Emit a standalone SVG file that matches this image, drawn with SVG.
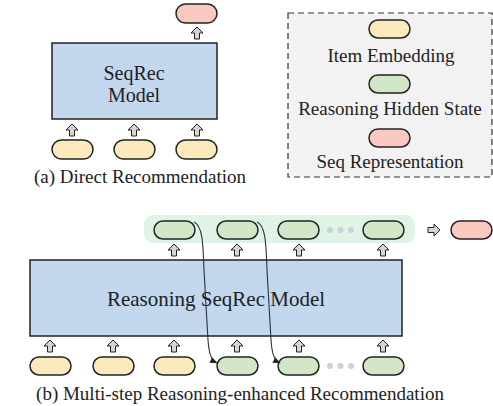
<svg xmlns="http://www.w3.org/2000/svg" width="493" height="406" viewBox="0 0 493 406">
<style>
text{font-family:"Liberation Serif","Times New Roman",serif;fill:#222;text-anchor:middle}
.pill{stroke:#222;stroke-width:1.5}
.y{fill:#FCE9BC}.g{fill:#D2E7C8}.p{fill:#F9C9C1}
.box{fill:#C3D7EE;stroke:#222;stroke-width:1.5}
.ar{fill:#D4D4D4;stroke:#222;stroke-width:1}
.dot{fill:#C9D2DC}
.conn{fill:none;stroke:#2a3440;stroke-width:1.1}
</style>
<defs>
<path id="up" d="M0,0 L6,6 L2.5,6 L2.5,12 L-2.5,12 L-2.5,6 L-6,6 Z"/>
<marker id="ah" viewBox="0 0 10 10" refX="9" refY="5" markerWidth="7" markerHeight="7" orient="auto"><path d="M0,1 L10,5 L0,9 Z" fill="#222"/></marker>
</defs>
<!-- (a) -->
<g id="a-out"><rect class="pill p" x="176" y="4" width="41" height="19" rx="9.5"/></g>
<g id="a-model"><rect class="box" x="52" y="43" width="165" height="76"/>
<text x="134" y="80" font-size="20">SeqRec</text><text x="134" y="102" font-size="20">Model</text></g>
<g id="a-in1"><rect class="pill y" x="52" y="140" width="41" height="19" rx="9.5"/></g>
<g id="a-in2"><rect class="pill y" x="114" y="140" width="41" height="19" rx="9.5"/></g>
<g id="a-in3"><rect class="pill y" x="176" y="140" width="41" height="19" rx="9.5"/></g>
<text x="140" y="183" font-size="19">(a) Direct Recommendation</text>
<!-- legend -->
<g id="legend">
<rect x="288" y="13" width="204" height="164" fill="#F2F2F2" stroke="#333" stroke-width="1.2" stroke-dasharray="6,4"/>
<rect class="pill y" x="369" y="20" width="41" height="18" rx="9"/>
<text x="391" y="62" font-size="19">Item Embedding</text>
<rect class="pill g" x="369" y="75" width="41" height="18" rx="9"/>
<text x="390" y="115" font-size="19">Reasoning Hidden State</text>
<rect class="pill p" x="369" y="129" width="41" height="18" rx="9"/>
<text x="390" y="168" font-size="19">Seq Representation</text>
</g>
<!-- (b) -->
<g id="band"><rect x="144" y="215" width="271" height="28" rx="9" fill="#DFF3E6"/></g>
<g id="b-h1"><rect class="pill g" x="154" y="221" width="41" height="18" rx="9"/></g>
<g id="b-h2"><rect class="pill g" x="217" y="221" width="41" height="18" rx="9"/></g>
<g id="b-h3"><rect class="pill g" x="278" y="221" width="41" height="18" rx="9"/></g>
<g id="b-h4"><rect class="pill g" x="363" y="221" width="41" height="18" rx="9"/></g>
<g id="b-dots1"><circle class="dot" cx="330" cy="230" r="3"/><circle class="dot" cx="340.5" cy="230" r="3"/><circle class="dot" cx="351" cy="230" r="3"/></g>
<g id="b-out"><rect class="pill p" x="451" y="221" width="41" height="18" rx="9"/></g>
<g id="b-model"><rect class="box" x="30" y="260" width="372" height="76"/>
<text x="216" y="306" font-size="21">Reasoning SeqRec Model</text></g>
<g id="b-i1"><rect class="pill y" x="30" y="357" width="41" height="18" rx="9"/></g>
<g id="b-i2"><rect class="pill y" x="93" y="357" width="41" height="18" rx="9"/></g>
<g id="b-i3"><rect class="pill y" x="154" y="357" width="41" height="18" rx="9"/></g>
<g id="b-g1"><rect class="pill g" x="217" y="357" width="41" height="18" rx="9"/></g>
<g id="b-g2"><rect class="pill g" x="278" y="357" width="41" height="18" rx="9"/></g>
<g id="b-g3"><rect class="pill g" x="363" y="357" width="41" height="18" rx="9"/></g>
<g id="b-dots2"><circle class="dot" cx="330" cy="366" r="3"/><circle class="dot" cx="340.5" cy="366" r="3"/><circle class="dot" cx="351" cy="366" r="3"/></g>
<text x="240" y="400" font-size="19">(b) Multi-step Reasoning-enhanced Recommendation</text>
<!-- connectors -->
<g id="connectors">
<use href="#up" class="ar" x="197" y="27"/>
<use href="#up" class="ar" x="72" y="124"/>
<use href="#up" class="ar" x="134" y="124"/>
<use href="#up" class="ar" x="197" y="124"/>
<use href="#up" class="ar" x="174" y="244"/>
<use href="#up" class="ar" x="237" y="244"/>
<use href="#up" class="ar" x="299" y="244"/>
<use href="#up" class="ar" x="383" y="244"/>
<use href="#up" class="ar" x="50" y="340"/>
<use href="#up" class="ar" x="113" y="340"/>
<use href="#up" class="ar" x="174" y="340"/>
<use href="#up" class="ar" x="237" y="340"/>
<use href="#up" class="ar" x="299" y="340"/>
<use href="#up" class="ar" x="383" y="340"/>
<path class="ar" d="M440,230 L434,224 L434,227.5 L428,227.5 L428,232.5 L434,232.5 L434,236 Z"/>
<path class="conn" marker-end="url(#ah)" d="M194,222 C203,226 203,245 204,270 L208,340 C209,354 211,360 217,363"/>
<path class="conn" marker-end="url(#ah)" d="M257,222 C266,226 266,245 267,270 L271,340 C272,354 274,360 280,363"/>
</g>
</svg>
